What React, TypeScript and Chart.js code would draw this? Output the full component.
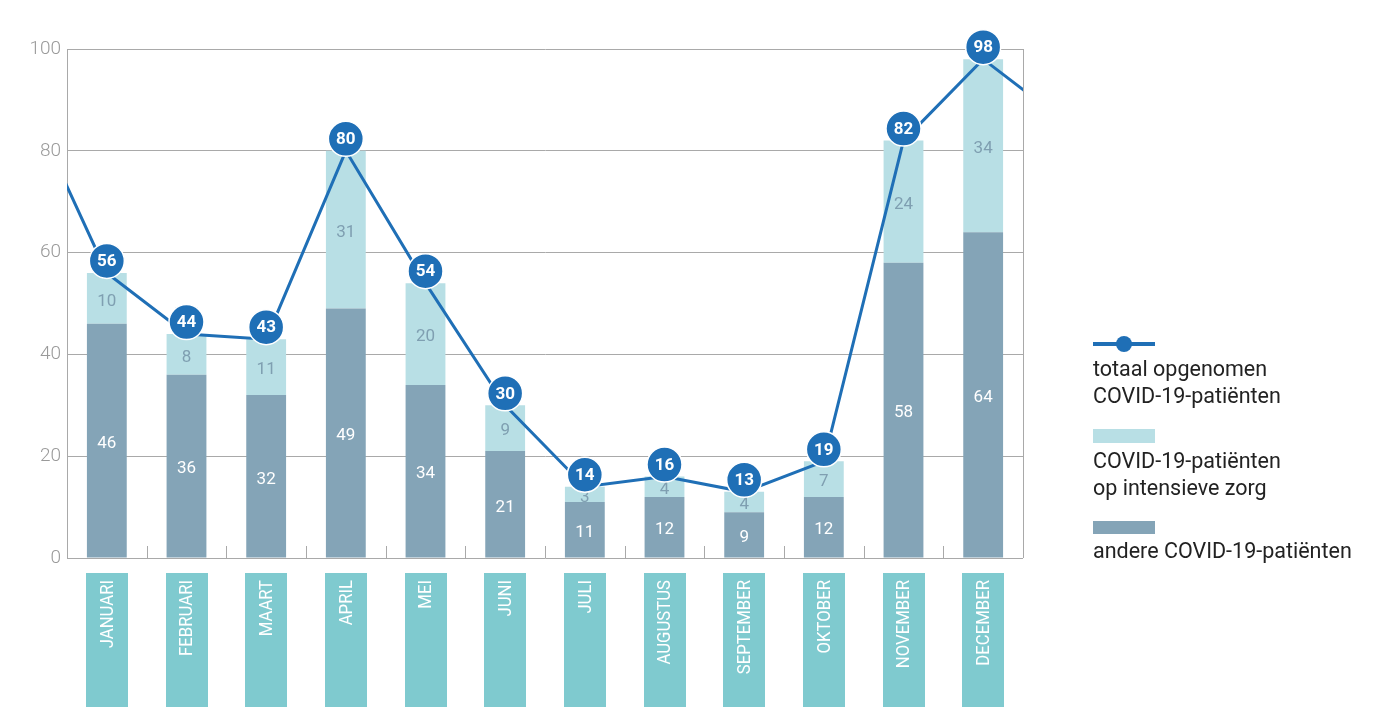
import React, { useEffect, useRef } from "react";
import { Chart, registerables } from "chart.js";

Chart.register(...registerables);

const maanden = ["JANUARI", "FEBRUARI", "MAART", "APRIL", "MEI", "JUNI", "JULI", "AUGUSTUS", "SEPTEMBER", "OKTOBER", "NOVEMBER", "DECEMBER"];
const andere = [46, 36, 32, 49, 34, 21, 11, 12, 9, 12, 58, 64];
const intensieveZorg = [10, 8, 11, 31, 20, 9, 3, 4, 4, 7, 24, 34];
const totaal = [56, 44, 43, 80, 54, 30, 14, 16, 13, 19, 82, 98];
// line continues beyond the chart edges (previous / next month, estimated)
const vorigeMaand = 90;
const volgendeMaand = 86;
const yTicks = [0, 20, 40, 60, 80, 100];
const legendeTeksten = [
  ["totaal opgenomen", "COVID-19-patiënten"],
  ["COVID-19-patiënten", "op intensieve zorg"],
  ["andere COVID-19-patiënten"],
];

const BLAUW = "#1f6fb6";
const DONKER = "#84a4b7";
const LICHT = "#b8dfe5";
const TEAL = "#7fcacf";
const GRIJS = "#a9a9a9";
const FONT = "Roboto, 'Noto Sans', sans-serif";

export default function App() {
  const ref = useRef<HTMLCanvasElement | null>(null);

  useEffect(() => {
    if (!ref.current) return;
    const lijnPunten = [
      { x: -1, y: vorigeMaand },
      ...totaal.map((v, i) => ({ x: i, y: v })),
      { x: maanden.length, y: volgendeMaand },
    ];

    const overlay = {
      id: "overlay",
      afterDatasetDraw(chart: any, args: any) {
        const ds = chart.data.datasets[args.index];
        if (ds.type !== "bar") return;
        const ctx = chart.ctx;
        const meta = args.meta;
        ctx.save();
        ctx.font = `17px ${FONT}`;
        ctx.textAlign = "center";
        ctx.textBaseline = "middle";
        ctx.fillStyle = ds.labelColor;
        meta.data.forEach((bar: any, i: number) => {
          const cy = (bar.y + bar.base) / 2;
          ctx.fillText(String(ds.data[i]), bar.x, cy + 3);
        });
        ctx.restore();
      },
      afterDatasetsDraw(chart: any) {
        const ctx = chart.ctx;
        const area = chart.chartArea;
        const xs = chart.scales.x;
        const ys = chart.scales.y;
        ctx.save();
        // right border
        ctx.strokeStyle = GRIJS;
        ctx.lineWidth = 1;
        ctx.beginPath();
        ctx.moveTo(Math.round(area.right) + 0.5, area.top);
        ctx.lineTo(Math.round(area.right) + 0.5, area.bottom);
        ctx.stroke();
        // small ticks between categories
        for (let i = 1; i < maanden.length; i++) {
          const x = Math.round((xs.getPixelForValue(i - 1) + xs.getPixelForValue(i)) / 2) + 0.5;
          ctx.beginPath();
          ctx.moveTo(x, area.bottom - 12);
          ctx.lineTo(x, area.bottom);
          ctx.stroke();
        }
        // circles with totals
        totaal.forEach((v, i) => {
          const x = xs.getPixelForValue(i);
          const y = ys.getPixelForValue(v) - 12;
          ctx.beginPath();
          ctx.arc(x, y, 17.5, 0, Math.PI * 2);
          ctx.fillStyle = BLAUW;
          ctx.fill();
          ctx.lineWidth = 1.5;
          ctx.strokeStyle = "#ffffff";
          ctx.stroke();
          ctx.fillStyle = "#ffffff";
          ctx.font = `bold 17px ${FONT}`;
          ctx.textAlign = "center";
          ctx.textBaseline = "middle";
          ctx.fillText(String(v), x, y + 1);
        });
        ctx.restore();
      },
      afterDraw(chart: any) {
        const ctx = chart.ctx;
        const area = chart.chartArea;
        const xs = chart.scales.x;
        ctx.save();
        // month boxes
        maanden.forEach((m, i) => {
          const cx = xs.getPixelForValue(i);
          const top = area.bottom + 15;
          ctx.fillStyle = TEAL;
          ctx.fillRect(Math.round(cx - 21), top, 42, 134);
          ctx.save();
          ctx.translate(cx + 1, top + 7);
          ctx.rotate(-Math.PI / 2);
          ctx.scale(0.88, 1);
          ctx.fillStyle = "#ffffff";
          ctx.font = `19px ${FONT}`;
          ctx.textAlign = "right";
          ctx.textBaseline = "middle";
          ctx.fillText(m, 0, 0);
          ctx.restore();
        });
        // legend
        const lx = area.right + 70;
        ctx.font = `21.5px ${FONT}`;
        ctx.textAlign = "left";
        ctx.textBaseline = "middle";
        // line symbol
        ctx.strokeStyle = BLAUW;
        ctx.lineWidth = 4;
        ctx.beginPath();
        ctx.moveTo(lx, 344);
        ctx.lineTo(lx + 62, 344);
        ctx.stroke();
        ctx.beginPath();
        ctx.arc(lx + 31, 344, 8, 0, Math.PI * 2);
        ctx.fillStyle = BLAUW;
        ctx.fill();
        ctx.fillStyle = "#222222";
        ctx.fillText(legendeTeksten[0][0], lx, 371);
        ctx.fillText(legendeTeksten[0][1], lx, 398);
        ctx.fillStyle = LICHT;
        ctx.fillRect(lx, 429, 62, 14);
        ctx.fillStyle = "#222222";
        ctx.fillText(legendeTeksten[1][0], lx, 463);
        ctx.fillText(legendeTeksten[1][1], lx, 490);
        ctx.fillStyle = DONKER;
        ctx.fillRect(lx, 521, 62, 13);
        ctx.fillStyle = "#222222";
        ctx.fillText(legendeTeksten[2][0], lx, 553);
        ctx.restore();
      },
    };

    const chart = new Chart(ref.current, {
      type: "bar",
      data: {
        labels: maanden,
        datasets: [
          {
            type: "line",
            label: "totaal opgenomen COVID-19-patiënten",
            data: lijnPunten as any,
            xAxisID: "xl",
            borderColor: BLAUW,
            borderWidth: 3,
            pointRadius: 0,
            tension: 0,
            order: 0,
            clip: 0,
          } as any,
          {
            type: "bar",
            label: "andere COVID-19-patiënten",
            data: andere,
            backgroundColor: DONKER,
            order: 1,
            grouped: false,
            barPercentage: 0.5,
            categoryPercentage: 1,
            labelColor: "#ffffff",
          } as any,
          {
            type: "bar",
            label: "COVID-19-patiënten op intensieve zorg",
            data: intensieveZorg,
            backgroundColor: LICHT,
            order: 2,
            grouped: false,
            barPercentage: 0.5,
            categoryPercentage: 1,
            labelColor: "#7f9fb1",
          } as any,
        ],
      },
      options: {
        animation: false,
        responsive: true,
        maintainAspectRatio: false,
        layout: { padding: { left: 0, right: 377, top: 49, bottom: 160 } },
        plugins: { legend: { display: false }, tooltip: { enabled: false } },
        scales: {
          x: { display: false, stacked: true, offset: true },
          xl: { type: "linear", display: false, min: -0.5, max: 11.5, offset: false, grid: { offset: false } },
          y: {
            stacked: true,
            min: 0,
            max: 100,
            afterBuildTicks(scale: any) {
              scale.ticks = yTicks.map((v) => ({ value: v }));
            },
            afterFit(scale: any) {
              scale.width = 67;
            },
            ticks: {
              color: "#9a9a9a",
              font: { family: FONT, size: 19, weight: 300 as any },
              padding: 6,
            },
            grid: { color: GRIJS, lineWidth: 1, drawTicks: false },
            border: { display: true, color: GRIJS, width: 1 },
          },
        },
      } as any,
      plugins: [overlay],
    });
    return () => chart.destroy();
  }, []);

  return (
    <div style={{ position: "fixed", left: 0, top: 0, width: 1400, height: 718, background: "#ffffff" }}>
      <canvas ref={ref} />
    </div>
  );
}
